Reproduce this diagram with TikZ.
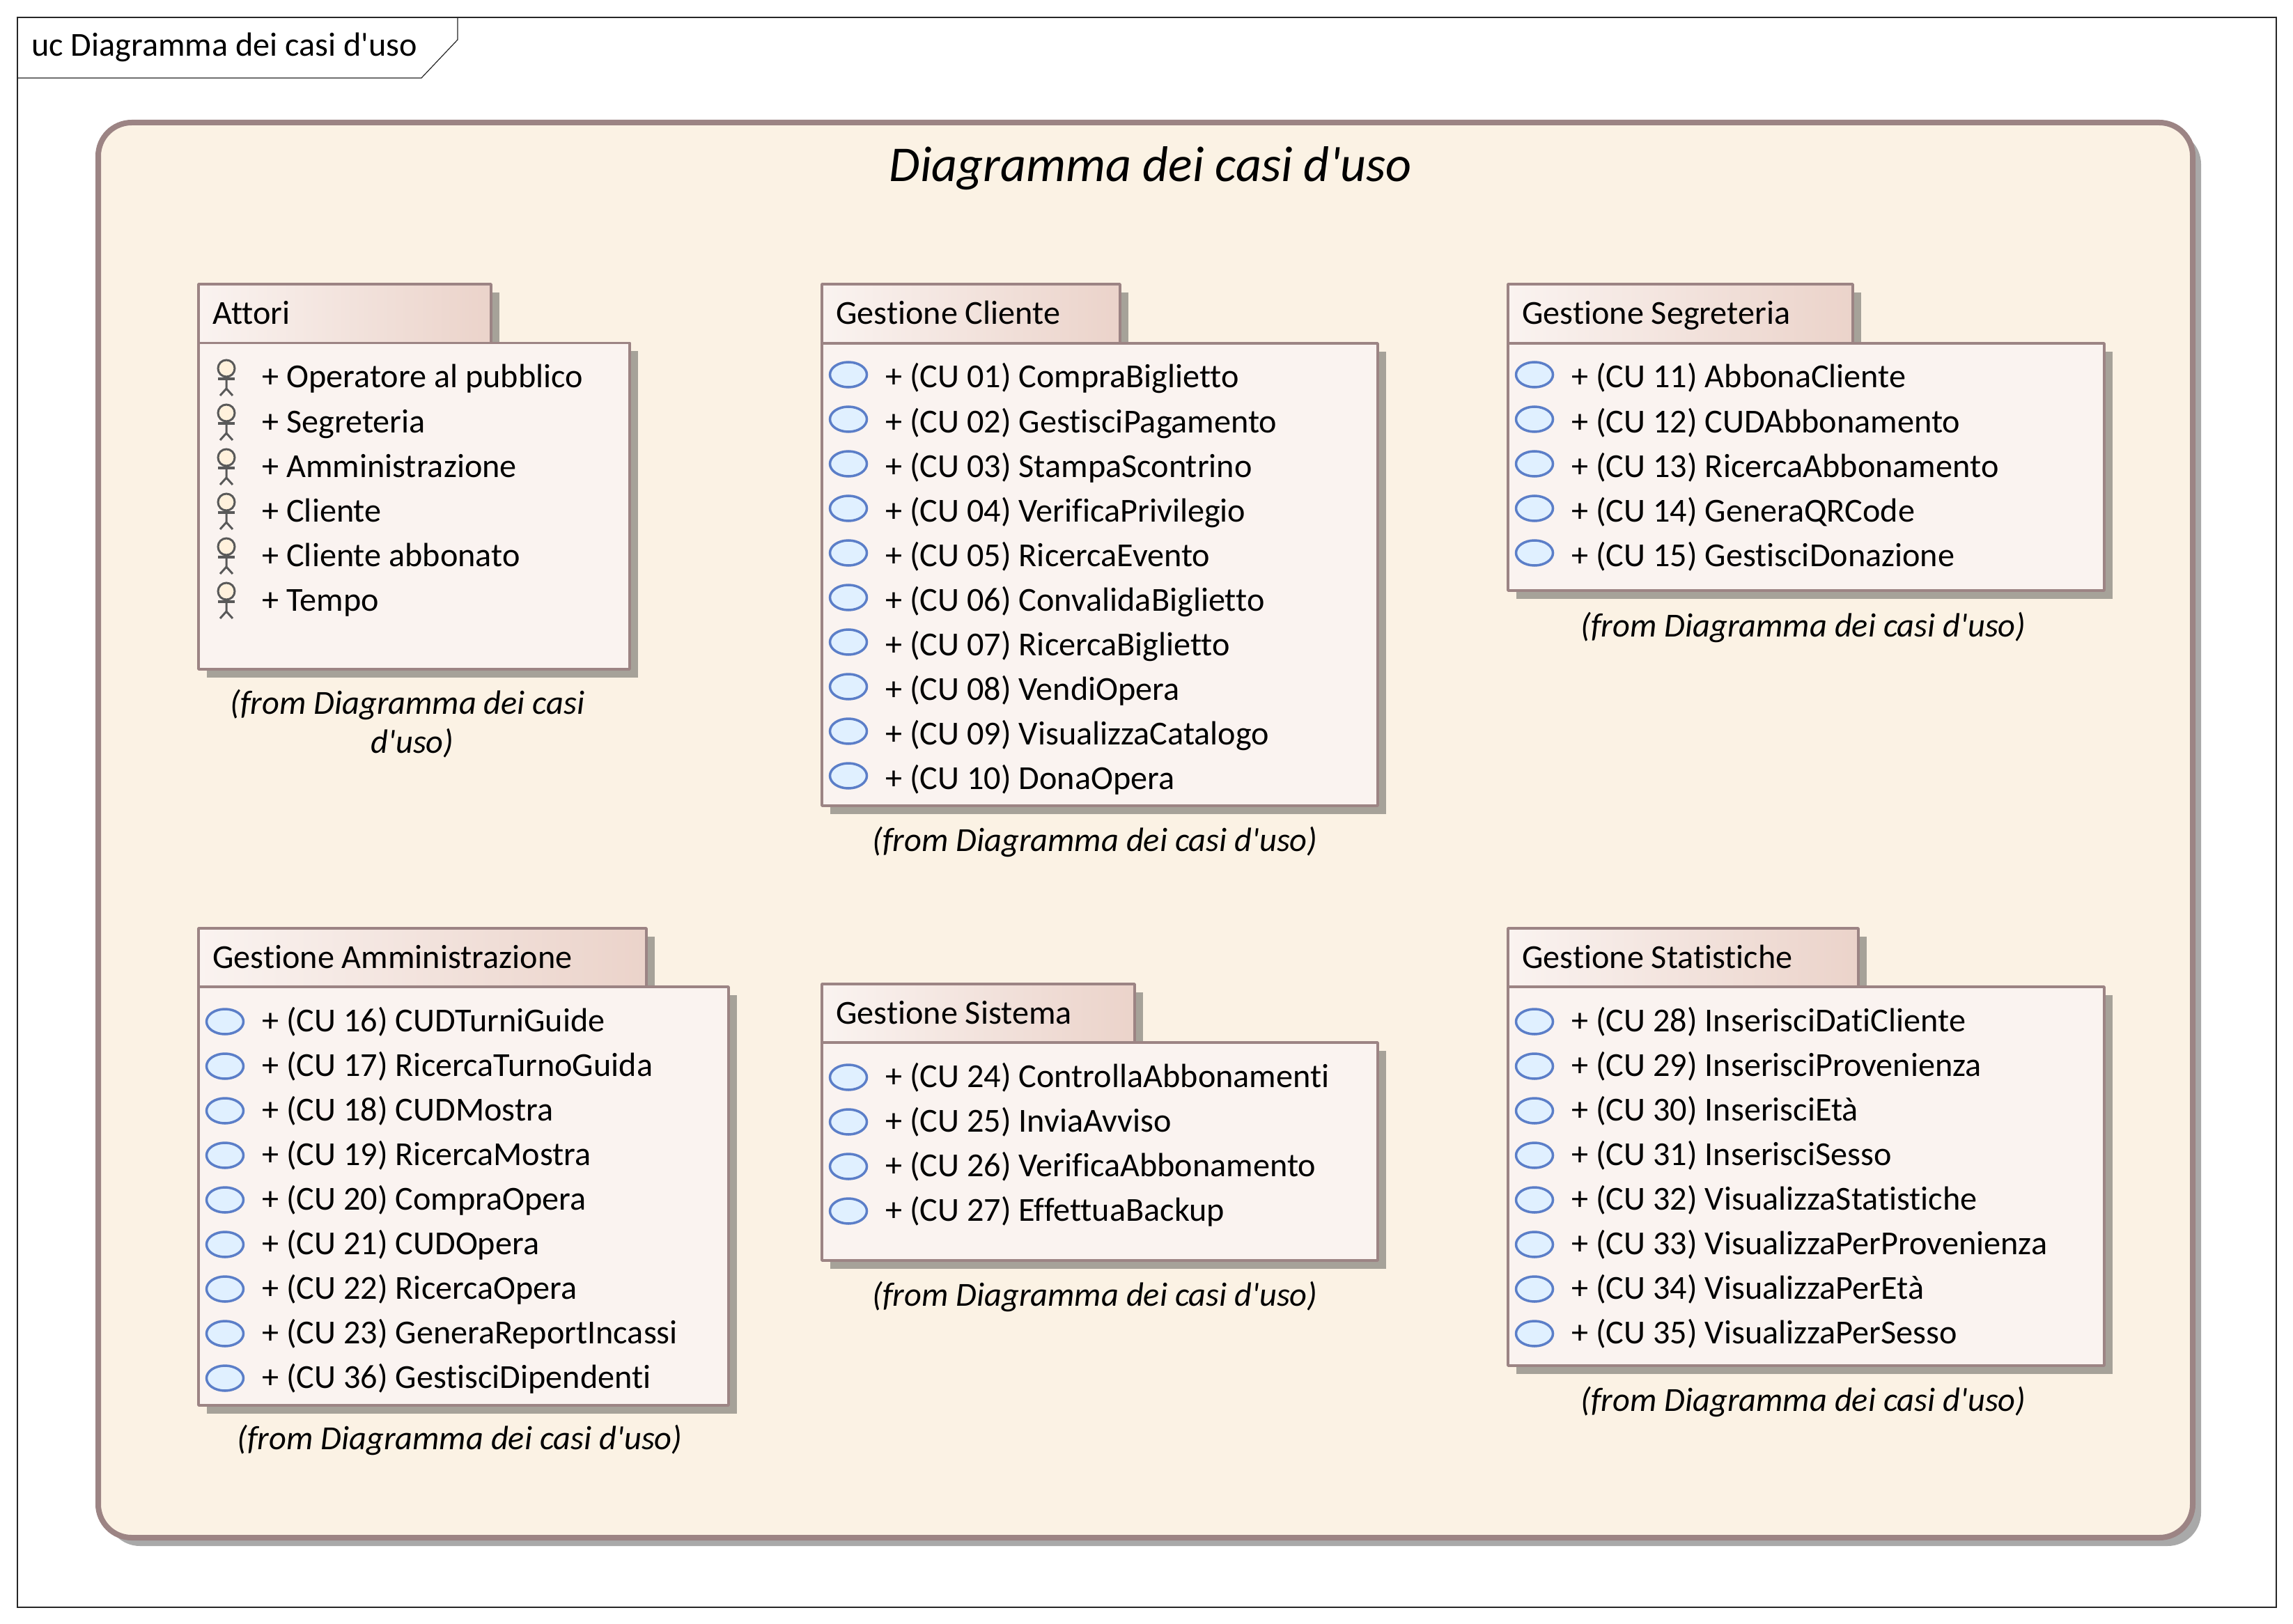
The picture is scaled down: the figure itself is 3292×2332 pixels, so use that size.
\documentclass[tikz,border=0pt]{standalone}
\usepackage{fontspec}
\newfontfamily\cf{Carlito}[Ligatures=NoCommon]
\definecolor{outerline}{HTML}{9C8484}
\definecolor{outerfill}{HTML}{FBF2E4}
\definecolor{outershadow}{HTML}{A9A9A9}
\definecolor{boxshadow}{HTML}{A6A299}
\definecolor{bodyfill}{HTML}{FAF3F0}
\definecolor{tabright}{HTML}{EBD3CA}
\definecolor{ucline}{HTML}{5B7EC8}
\definecolor{ucfill}{HTML}{E0F0FF}
\definecolor{actline}{HTML}{595959}
\definecolor{actfill}{HTML}{FFF1DC}
\tikzset{
 item/.style={anchor=base west,inner sep=0pt,font=\cf\fontsize{24.1}{29}\selectfont},
 fromnote/.style={anchor=base,inner sep=0pt,align=center,font=\cf\itshape\fontsize{24.2}{28}\selectfont},
 pkgline/.style={draw=outerline,line width=1.75pt,line join=round},
 usecase/.style={ellipse,draw=ucline,fill=ucfill,line width=1.75pt,minimum width=26.5pt,minimum height=18pt,inner sep=0pt},
 actorline/.style={draw=actline,line width=1.5pt}
}
\usetikzlibrary{shapes.geometric}
% name, title, L, T, tabR, H, R, B
\newcommand{\pkgbox}[8]{%
 \fill[boxshadow] (#3+12,#4+12) rectangle (#5+12,#6+12);
 \fill[boxshadow] (#3+12,#6+12) rectangle (#7+12,#8+12);
 \path[pkgline,left color=bodyfill,right color=tabright] (#3,#4) rectangle (#5,#6);
 \path[pkgline,fill=bodyfill] (#3,#6) rectangle (#7,#8);
 \node[item] (#1title) at (#3+20,#6-27) {#2};
}
% name, x of left edge, y of separator, y offset of the ellipses, list
\newcommand{\ucrows}[5]{%
 \foreach \txt [count=\i from 0] in {#5} {
  \node[usecase] (#1uc\i) at (#2+38,#3+#4+64*\i) {};
  \node[item] (#1row\i) at (#2+91,#3+64+64*\i) {+ \txt};
 }
}
\begin{document}
\begin{tikzpicture}[x=0.5pt,y=-0.5pt]
\useasboundingbox (0,0) rectangle (3292,2332);
\fill[white] (0,0) rectangle (3292,2332);
% frame
\draw[black!85,line width=0.6pt] (25,25) rectangle (3268,2308);
\draw[black!85,line width=0.6pt] (25,112) -- (605,112) -- (657,57) -- (657,25);
\node[item] (frametitle) at (45,81) {uc Diagramma dei casi d'uso};
% outer package
\fill[outershadow,rounded corners=24pt] (153,188) rectangle (3160,2220);
\path[draw=outerline,fill=outerfill,line width=4pt,rounded corners=24pt] (141,176) rectangle (3148,2208);
\node[anchor=base,inner sep=0pt,font=\cf\itshape\fontsize{36}{43}\selectfont] (maintitle) at (1652,261) {Diagramma dei casi d'uso};
% Attori
\pkgbox{att}{Attori}{285}{408}{705}{492.5}{904}{961}
\foreach \txt [count=\i from 0] in {Operatore al pubblico,Segreteria,Amministrazione,Cliente,Cliente abbonato,Tempo} {
 \begin{scope}[shift={(325,529+64*\i)}]
  \draw[actorline,fill=actfill] (0,0) circle[radius=6pt];
  \draw[actorline] (0,12) -- (0,29) (-9,39) -- (0,29) -- (9,39);
  \draw[actorline,line width=2pt] (-12,15) -- (12,15);
 \end{scope}
 \node[item] (attrow\i) at (376,557+64*\i) {+ \txt};
}
\node[fromnote] (attfrom) at (585,1081) {(from Diagramma dei casi\\\hspace*{7pt}d'uso)};
% Cliente
\pkgbox{cli}{Gestione Cliente}{1180}{408}{1608}{493}{1978}{1157}
\ucrows{cli}{1180}{493}{45}{(CU 01) CompraBiglietto,(CU 02) GestisciPagamento,(CU 03) StampaScontrino,(CU 04) VerificaPrivilegio,(CU 05) RicercaEvento,(CU 06) ConvalidaBiglietto,(CU 07) RicercaBiglietto,(CU 08) VendiOpera,(CU 09) VisualizzaCatalogo,(CU 10) DonaOpera}
\node[fromnote] (clifrom) at (1572,1222) {(from Diagramma dei casi d'uso)};
% Segreteria
\pkgbox{seg}{Gestione Segreteria}{2165}{408}{2660}{493}{3021}{848}
\ucrows{seg}{2165}{493}{45}{(CU 11) AbbonaCliente,(CU 12) CUDAbbonamento,(CU 13) RicercaAbbonamento,(CU 14) GeneraQRCode,(CU 15) GestisciDonazione}
\node[fromnote] (segfrom) at (2589,914) {(from Diagramma dei casi d'uso)};
% Amministrazione
\pkgbox{amm}{Gestione Amministrazione}{285}{1333}{928}{1417}{1046}{2018}
\ucrows{amm}{285}{1417}{50}{(CU 16) CUDTurniGuide,(CU 17) RicercaTurnoGuida,(CU 18) CUDMostra,(CU 19) RicercaMostra,(CU 20) CompraOpera,(CU 21) CUDOpera,(CU 22) RicercaOpera,(CU 23) GeneraReportIncassi,(CU 36) GestisciDipendenti}
\node[fromnote] (ammfrom) at (660,2081) {(from Diagramma dei casi d'uso)};
% Sistema
\pkgbox{sis}{Gestione Sistema}{1180}{1413}{1629}{1497}{1978}{1810}
\ucrows{sis}{1180}{1497}{50}{(CU 24) ControllaAbbonamenti,(CU 25) InviaAvviso,(CU 26) VerificaAbbonamento,(CU 27) EffettuaBackup}
\node[fromnote] (sisfrom) at (1572,1875) {(from Diagramma dei casi d'uso)};
% Statistiche
\pkgbox{sta}{Gestione Statistiche}{2165}{1333}{2668}{1417}{3021}{1961}
\ucrows{sta}{2165}{1417}{50}{(CU 28) InserisciDatiCliente,(CU 29) InserisciProvenienza,(CU 30) InserisciEtà,(CU 31) InserisciSesso,(CU 32) VisualizzaStatistiche,(CU 33) VisualizzaPerProvenienza,(CU 34) VisualizzaPerEtà,(CU 35) VisualizzaPerSesso}
\node[fromnote] (stafrom) at (2589,2026) {(from Diagramma dei casi d'uso)};
\end{tikzpicture}
\end{document}
